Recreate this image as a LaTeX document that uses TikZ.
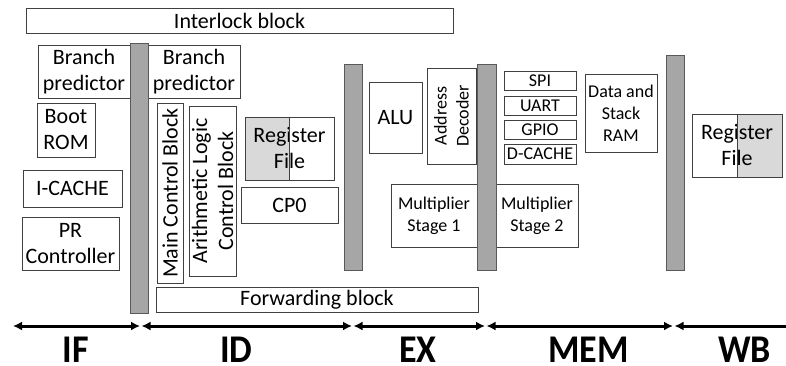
\documentclass[tikz,border=0pt]{standalone}
\usepackage{fontspec}
\setmainfont{Carlito}
\usetikzlibrary{arrows.meta}

\begin{document}
\begin{tikzpicture}[x=1pt,y=-1pt,
  blk/.style={draw=black!75,line width=1pt,inner sep=0pt,align=center,font=\fontsize{22}{26}\selectfont},
  sml/.style={blk,font=\fontsize{18}{22}\selectfont},
  bar/.style={draw=black!65,fill=black!35,line width=1pt},
  stage/.style={line width=3pt,{Latex[length=9pt,width=9pt]}-{Latex[length=9pt,width=9pt]}},
  lbl/.style={anchor=base,inner sep=0pt,text depth=0pt,yscale=1.09,font=\fontsize{36}{40}\selectfont\bfseries}]
  \useasboundingbox (0,0) rectangle (786,365);

  % control blocks spanning the stages
  \node[blk,minimum width=427pt,minimum height=25pt] (ilock) at (239.5,20.5) {Interlock block};
  \node[blk,minimum width=322pt,minimum height=25pt] (fwd) at (317,299.5) {Forwarding block};

  % IF
  \node[blk,minimum width=92pt,minimum height=53pt] (ifbp) at (84,71.5) {Branch\\predictor};
  \node[blk,minimum width=58pt,minimum height=54pt] (boot) at (66,130) {Boot\\ROM};
  \node[blk,minimum width=99pt,minimum height=37pt] (icache) at (72.5,188.5) {I-CACHE};
  \node[blk,minimum width=97pt,minimum height=53pt] (prctl) at (70.5,243.5) {PR\\Controller};

  % ID
  \node[blk,minimum width=92pt,minimum height=53pt] (idbp) at (194,71.5) {Branch\\predictor};
  \node[blk,rotate=90,minimum width=180pt,minimum height=26pt] (mainctl) at (170,193) {Main Control Block};
  \node[blk,rotate=90,minimum width=170pt,minimum height=47pt] (aluctl) at (212.5,191) {Arithmetic Logic\\Control Block};
  \fill[black!15] (245,117) rectangle (289.5,180);
  \node[blk,minimum width=89pt,minimum height=63pt] (regid) at (289.5,148.5) {Register\\File};
  \draw[black!75,line width=1pt] (regid.north) -- (regid.south);
  \node[blk,minimum width=97pt,minimum height=36pt] (cp0) at (289.5,205) {CP0};

  % EX
  \node[blk,minimum width=53pt,minimum height=71pt] (alu) at (395.5,117.5) {ALU};
  \node[sml,rotate=90,minimum width=96pt,minimum height=49pt] (addr) at (451.5,116) {Address\\Decoder};
  \node[sml,minimum width=86pt,minimum height=63pt] (mul1) at (434,215.5) {Multiplier\\Stage 1};

  % MEM
  \node[sml,minimum width=72pt,minimum height=19pt] (spi) at (540,80.5) {SPI};
  \node[sml,minimum width=72pt,minimum height=19pt] (uart) at (540,105.5) {UART};
  \node[sml,minimum width=72pt,minimum height=19pt] (gpio) at (540,129.5) {GPIO};
  \node[sml,minimum width=72pt,minimum height=20pt] (dcache) at (540,154) {D-CACHE};
  \node[sml,minimum width=72pt,minimum height=78pt] (ram) at (621,113) {Data and\\Stack\\RAM};
  \node[sml,minimum width=82pt,minimum height=63pt] (mul2) at (537,215.5) {Multiplier\\Stage 2};

  % WB
  \fill[black!15] (737,114) rectangle (782,177);
  \node[blk,minimum width=90pt,minimum height=63pt] (regwb) at (737,145.5) {Register\\File};
  \draw[black!75,line width=1pt] (regwb.north) -- (regwb.south);

  % pipeline registers
  \draw[bar] (130,43) rectangle (148,313);
  \draw[bar] (344,64) rectangle (362,270);
  \draw[bar] (477,64) rectangle (496,270);
  \draw[bar] (666,55) rectangle (684,270);

  % stage arrows
  \coordinate (s0) at (13,326);
  \coordinate (s1) at (140,326);
  \coordinate (s2) at (141.5,326);
  \coordinate (s3) at (352,326);
  \coordinate (s4) at (353.5,326);
  \coordinate (s5) at (485,326);
  \coordinate (s6) at (486.5,326);
  \coordinate (s7) at (673,326);
  \coordinate (s8) at (674.5,326);
  \coordinate (s9) at (800,326);
  \draw[stage] (s0) -- (s1);
  \draw[stage] (s2) -- (s3);
  \draw[stage] (s4) -- (s5);
  \draw[stage] (s6) -- (s7);
  \draw[line width=3pt,{Latex[length=9pt,width=9pt]}-] (s8) -- (s9);

  \node[lbl] (if) at (76,362.5) {IF};
  \node[lbl] (id) at (236.5,362.5) {ID};
  \node[lbl] (ex) at (418,362.5) {EX};
  \node[lbl] (mem) at (588.5,362.5) {MEM};
  \node[lbl] (wb) at (744.5,362.5) {WB};
\end{tikzpicture}
\end{document}
